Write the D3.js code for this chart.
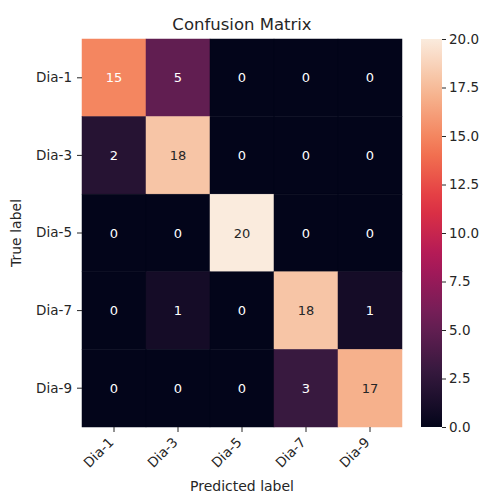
<!DOCTYPE html>
<html>
<head>
<meta charset="utf-8">
<script src="https://cdn.jsdelivr.net/npm/d3@7"></script>
<style>
  html, body { margin: 0; padding: 0; background: #fff; }
  svg text { font-family: "DejaVu Sans", sans-serif; fill: #262626; }
</style>
</head>
<body>
<svg id="chart" width="485" height="494"></svg>
<script>
// Class labels (rows = true, columns = predicted)
const classes = ["Dia-1", "Dia-3", "Dia-5", "Dia-7", "Dia-9"];
// Confusion matrix counts, one array per true class
const rowDia1 = [15, 5, 0, 0, 0];
const rowDia3 = [2, 18, 0, 0, 0];
const rowDia5 = [0, 0, 20, 0, 0];
const rowDia7 = [0, 1, 0, 18, 1];
const rowDia9 = [0, 0, 0, 3, 17];
const matrix = [rowDia1, rowDia3, rowDia5, rowDia7, rowDia9];
// Colour bar ticks
const colorbarTicks = [0, 2.5, 5, 7.5, 10, 12.5, 15, 17.5, 20];

const svg = d3.select("#chart");

const plotLeft = 82, plotTop = 39, plotRight = 402, plotBottom = 427;
const x = d3.scaleBand().domain(classes).range([plotLeft, plotRight]).padding(0);
const y = d3.scaleBand().domain(classes).range([plotTop, plotBottom]).padding(0);

// "rocket"-style sequential palette
const rocketStops = ["#03051a", "#35193e", "#701f57", "#ad1759", "#e13342", "#f37651", "#f6b48f", "#faebdd"];
const vmin = 0, vmax = 20;
const color = d3.scaleLinear()
  .domain(rocketStops.map((_, i) => vmin + (vmax - vmin) * i / (rocketStops.length - 1)))
  .range(rocketStops)
  .interpolate(d3.interpolateRgb)
  .clamp(true);

const cells = [];
matrix.forEach((row, i) => row.forEach((v, j) => cells.push({ r: classes[i], c: classes[j], v })));

svg.append("g").selectAll("rect").data(cells).join("rect")
  .attr("x", d => x(d.c))
  .attr("y", d => y(d.r))
  .attr("width", x.bandwidth())
  .attr("height", y.bandwidth())
  .attr("fill", d => color(d.v))
  .attr("stroke", d => color(d.v))
  .attr("stroke-width", 0.5);

function luminance(c) {
  const rgb = d3.rgb(c);
  const f = v => { v /= 255; return v <= 0.03928 ? v / 12.92 : Math.pow((v + 0.055) / 1.055, 2.4); };
  return 0.2126 * f(rgb.r) + 0.7152 * f(rgb.g) + 0.0722 * f(rgb.b);
}

svg.append("g").selectAll("text").data(cells).join("text")
  .attr("x", d => x(d.c) + x.bandwidth() / 2)
  .attr("y", d => y(d.r) + y.bandwidth() / 2)
  .attr("text-anchor", "middle")
  .attr("dominant-baseline", "central")
  .style("font-size", "13px")
  .style("fill", d => luminance(color(d.v)) > 0.408 ? "#262626" : "#ffffff")
  .text(d => d.v);

// Axes
const xAxis = svg.append("g")
  .attr("transform", `translate(0,${plotBottom})`)
  .call(d3.axisBottom(x).tickSize(5).tickPadding(4));
xAxis.select(".domain").remove();
xAxis.selectAll("line").attr("stroke", "#262626");
xAxis.selectAll("text")
  .style("font-size", "13.5px")
  .attr("text-anchor", "end")
  .attr("dy", "0.35em")
  .attr("transform", "translate(0,10) rotate(-45)")
  .attr("y", 0).attr("x", -4);

const yAxis = svg.append("g")
  .attr("transform", `translate(${plotLeft},0)`)
  .call(d3.axisLeft(y).tickSize(5).tickPadding(5));
yAxis.select(".domain").remove();
yAxis.selectAll("line").attr("stroke", "#262626");
yAxis.selectAll("text").style("font-size", "13.5px");

// Axis titles
svg.append("text")
  .attr("x", (plotLeft + plotRight) / 2).attr("y", 491)
  .attr("text-anchor", "middle")
  .style("font-size", "14px")
  .text("Predicted label");

svg.append("text")
  .attr("transform", `translate(21,${(plotTop + plotBottom) / 2}) rotate(-90)`)
  .attr("text-anchor", "middle")
  .style("font-size", "14px")
  .text("True label");

svg.append("text")
  .attr("x", (plotLeft + plotRight) / 2).attr("y", 30)
  .attr("text-anchor", "middle")
  .style("font-size", "16.5px")
  .text("Confusion Matrix");

// Colour bar
const cbLeft = 421, cbWidth = 21;
const cbScale = d3.scaleLinear().domain([vmin, vmax]).range([plotBottom, plotTop]);
const defs = svg.append("defs");
const grad = defs.append("linearGradient")
  .attr("id", "cbgrad").attr("x1", "0").attr("y1", "1").attr("x2", "0").attr("y2", "0");
d3.range(0, 1.0001, 0.05).forEach(t => {
  grad.append("stop").attr("offset", t).attr("stop-color", color(vmin + t * (vmax - vmin)));
});
svg.append("rect")
  .attr("x", cbLeft).attr("y", plotTop)
  .attr("width", cbWidth).attr("height", plotBottom - plotTop)
  .attr("fill", "url(#cbgrad)");

const cbAxis = svg.append("g")
  .attr("transform", `translate(${cbLeft + cbWidth},0)`)
  .call(d3.axisRight(cbScale).tickValues(colorbarTicks).tickFormat(d3.format(".1f")).tickSize(4).tickPadding(3));
cbAxis.select(".domain").remove();
cbAxis.selectAll("line").attr("stroke", "#262626");
cbAxis.selectAll("text").style("font-size", "13.5px");
</script>
</body>
</html>
